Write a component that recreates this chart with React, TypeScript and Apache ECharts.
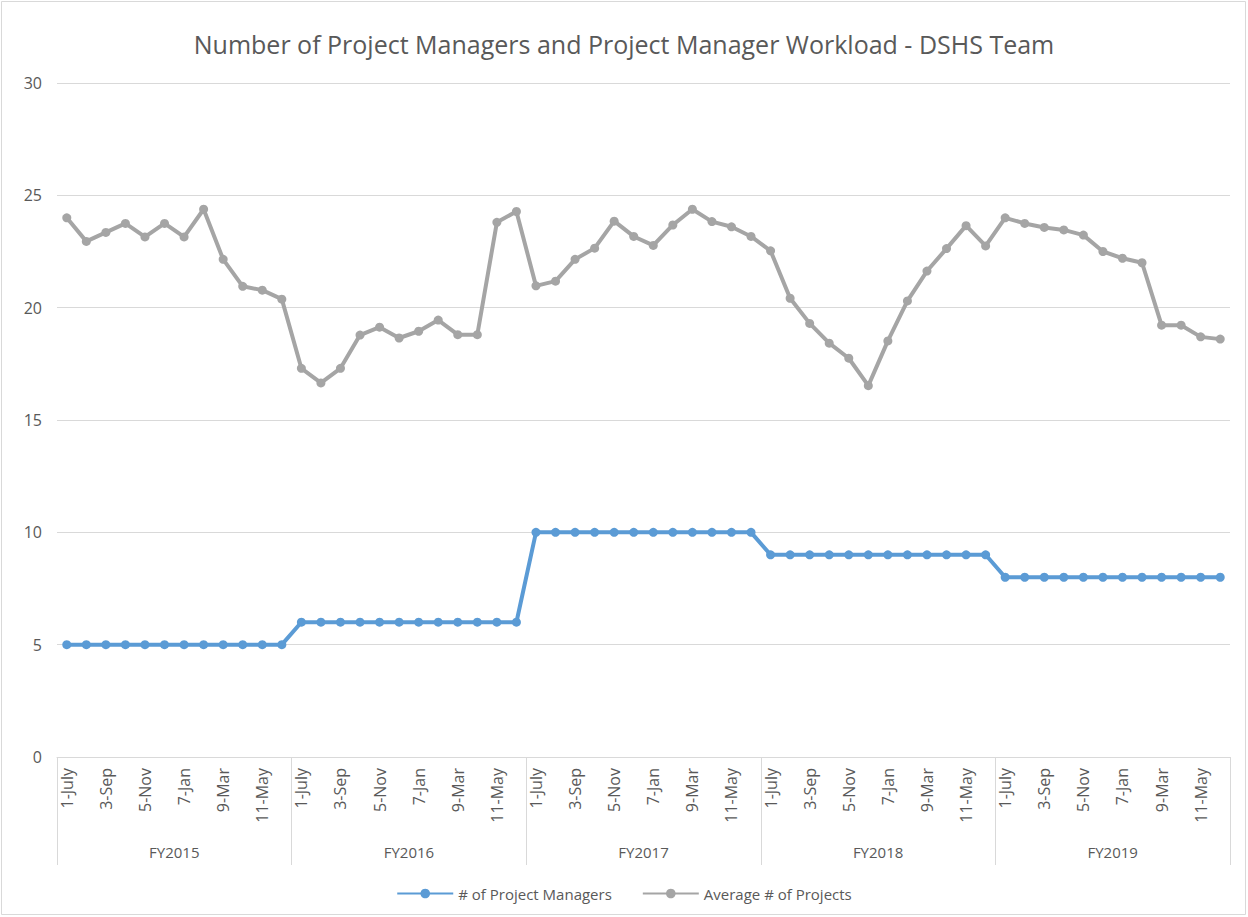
import React, { useEffect, useRef } from "react";
import * as echarts from "echarts";

const fiscalYears = ["FY2015", "FY2016", "FY2017", "FY2018", "FY2019"];
const months = ["1-July", "2-Aug", "3-Sep", "4-Oct", "5-Nov", "6-Dec", "7-Jan", "8-Feb", "9-Mar", "10-Apr", "11-May", "12-Jun"];
const yTicks = [0, 5, 10, 15, 20, 25, 30];

const projectManagers = [
  5, 5, 5, 5, 5, 5, 5, 5, 5, 5, 5, 5,
  6, 6, 6, 6, 6, 6, 6, 6, 6, 6, 6, 6,
  10, 10, 10, 10, 10, 10, 10, 10, 10, 10, 10, 10,
  9, 9, 9, 9, 9, 9, 9, 9, 9, 9, 9, 9,
  8, 8, 8, 8, 8, 8, 8, 8, 8, 8, 8, 8,
];

const averageProjects = [
  24.0, 22.95, 23.35, 23.75, 23.15, 23.75, 23.15, 24.38, 22.15, 20.95, 20.78, 20.38,
  17.3, 16.65, 17.3, 18.78, 19.13, 18.65, 18.95, 19.45, 18.8, 18.8, 23.8, 24.28,
  20.97, 21.18, 22.15, 22.65, 23.85, 23.17, 22.77, 23.68, 24.38, 23.83, 23.6, 23.17,
  22.53, 20.42, 19.3, 18.42, 17.75, 16.53, 18.52, 20.3, 21.63, 22.63, 23.65, 22.75,
  24.0, 23.75, 23.57, 23.46, 23.23, 22.5, 22.2, 22.0, 19.22, 19.22, 18.7, 18.6,
];

const categories: string[] = [];
fiscalYears.forEach(() => months.forEach((m) => categories.push(m)));

const FONT = "Open Sans, Lato, sans-serif";
const TEXT = "#595959";
const GRIDC = "#d9d9d9";

export default function App() {
  const ref = useRef<HTMLDivElement>(null);
  useEffect(() => {
    document.body.style.margin = "0";
    const chart = echarts.init(ref.current!, null, { renderer: "svg" });
    const gridRect = { left: 57, right: 18, top: 83, bottom: 160 };
    chart.setOption({
      animation: false,
      backgroundColor: "#ffffff",
      textStyle: { fontFamily: FONT },
      title: {
        text: "Number of Project Managers and Project Manager Workload - DSHS Team",
        left: "center",
        top: 26,
        textStyle: { color: TEXT, fontSize: 25, fontWeight: "normal", fontFamily: FONT },
      },
      graphic: [
        {
          type: "rect",
          shape: { x: 1.5, y: 1.5, width: 1244, height: 913 },
          style: { fill: "none", stroke: GRIDC, lineWidth: 1 },
          silent: true,
        },
      ],
      legend: {
        bottom: 11,
        left: "center",
        itemWidth: 56,
        itemHeight: 12,
        itemGap: 30,
        textStyle: { color: TEXT, fontSize: 15, fontFamily: FONT },
        data: ["# of Project Managers", "Average # of Projects"],
      },
      grid: [
        { ...gridRect, containLabel: false },
        { ...gridRect, containLabel: false },
      ],
      xAxis: [
        {
          type: "category",
          gridIndex: 0,
          data: categories,
          boundaryGap: true,
          axisLine: { show: true, lineStyle: { color: GRIDC, width: 1 } },
          axisTick: { show: false },
          axisLabel: {
            rotate: 90,
            interval: 1,
            color: TEXT,
            fontSize: 16,
            fontFamily: FONT,
            margin: 11,
          },
        },
        {
          type: "category",
          gridIndex: 1,
          data: fiscalYears,
          boundaryGap: true,
          axisLine: { show: false },
          axisTick: { show: true, length: 108, lineStyle: { color: GRIDC, width: 1 } },
          axisLabel: { color: TEXT, fontSize: 15, fontFamily: FONT, margin: 87, interval: 0 },
        },
      ],
      yAxis: [
        {
          type: "value",
          gridIndex: 0,
          min: yTicks[0],
          max: yTicks[yTicks.length - 1],
          interval: 5,
          axisLine: { show: false },
          axisTick: { show: false },
          axisLabel: { color: TEXT, fontSize: 16, fontFamily: FONT, margin: 15 },
          splitLine: { show: true, lineStyle: { color: GRIDC, width: 1 } },
        },
        {
          type: "value",
          gridIndex: 1,
          min: 0,
          max: 30,
          interval: 5,
          show: false,
          splitLine: { show: false },
        },
      ],
      series: [
        {
          name: "# of Project Managers",
          type: "line",
          xAxisIndex: 0,
          yAxisIndex: 0,
          data: projectManagers,
          symbol: "circle",
          symbolSize: 9,
          showSymbol: true,
          itemStyle: { color: "#5b9bd5" },
          lineStyle: { color: "#5b9bd5", width: 4 },
        },
        {
          name: "Average # of Projects",
          type: "line",
          xAxisIndex: 0,
          yAxisIndex: 0,
          data: averageProjects,
          symbol: "circle",
          symbolSize: 9,
          showSymbol: true,
          itemStyle: { color: "#a5a5a5" },
          lineStyle: { color: "#a5a5a5", width: 4 },
        },
      ],
    });
    return () => chart.dispose();
  }, []);
  return <div ref={ref} style={{ width: 1248, height: 917 }} />;
}
